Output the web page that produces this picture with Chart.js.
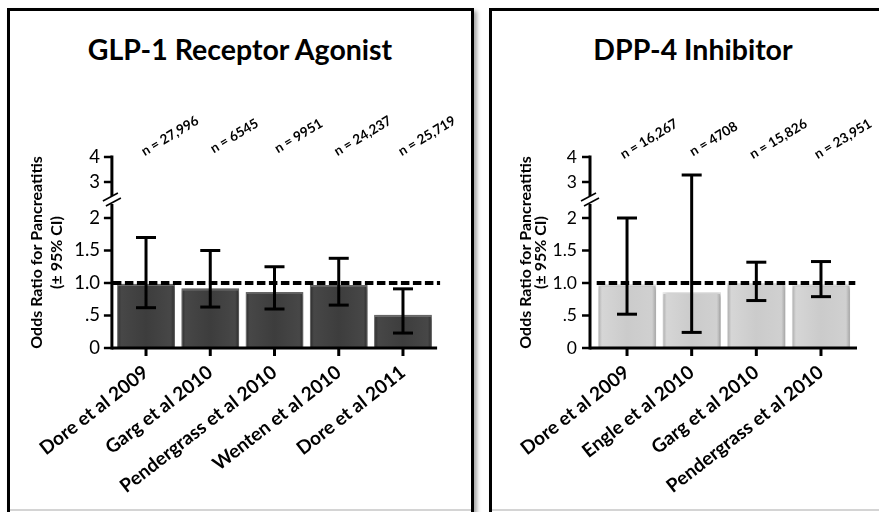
<!DOCTYPE html>
<html><head><meta charset="utf-8">
<script src="https://cdn.jsdelivr.net/npm/chart.js@4.4.0/dist/chart.umd.min.js"></script>
<style>
html,body{margin:0;padding:0;background:#fff;width:879px;height:512px;overflow:hidden;position:relative;}
.panel{position:absolute;border:3px solid #000;box-shadow:3px 3px 4px rgba(0,0,0,0.35);box-sizing:border-box;background:#fff;}
#p1{left:7px;top:8px;width:467px;height:512px;}
#p2{left:489px;top:8px;width:400px;height:512px;}
.bot{position:absolute;top:509px;height:2px;background:#d4d4d4;}
.ttl{position:absolute;font-family:Lato,sans-serif;font-weight:bold;font-size:28.5px;line-height:normal;color:#000;white-space:nowrap;transform:translateX(-50%);}
canvas{position:absolute;left:0;top:0;}
</style></head>
<body>
<div class="panel" id="p1"></div>
<div class="panel" id="p2"></div>
<div class="bot" style="left:10px;width:461px"></div>
<div class="bot" style="left:492px;width:387px"></div>
<div class="ttl" style="left:240px;top:32px">GLP-1 Receptor Agonist</div>
<div class="ttl" style="left:693px;top:32px">DPP-4 Inhibitor</div>
<canvas id="c1" width="879" height="512"></canvas>
<canvas id="c2" width="879" height="512"></canvas>
<script>
const glpCategories = ['Dore et al 2009','Garg et al 2010','Pendergrass et al 2010','Wenten et al 2010','Dore et al 2011'];
const glpOdds  = [0.99, 0.92, 0.86, 0.97, 0.51];
const glpLower = [0.62, 0.63, 0.60, 0.66, 0.23];
const glpUpper = [1.70, 1.50, 1.25, 1.38, 0.91];
const glpN = ['n = 27,996','n = 6545','n = 9951','n = 24,237','n = 25,719'];

const dppCategories = ['Dore et al 2009','Engle et al 2010','Garg et al 2010','Pendergrass et al 2010'];
const dppOdds  = [0.98, 0.86, 1.00, 0.98];
const dppLower = [0.52, 0.24, 0.73, 0.79];
const dppUpper = [2.00, 3.28, 1.32, 1.33];
const dppN = ['n = 16,267','n = 4708','n = 15,826','n = 23,951'];

const yTickValues = [0, 0.5, 1, 1.5, 2, 3, 4];
const yTickLabels = ['0', '.5', '1.0', '1.5', '2', '3', '4'];
const referenceOdds = 1.0;
const yTitle = ['Odds Ratio for Pancreatitis', '(\u00b1 95% CI)'];

// broken axis: 0-2 linear, gap, then 3-4 compressed
const GAP = 36/65, UP_SCALE = 25/65;
function brk(v){
  if (v <= 2) return v;
  if (v >= 3) return 2 + GAP + (v - 3) * UP_SCALE;
  return 2 + (v - 2) * GAP;
}
const Y_MAX = brk(4);

function barFill(dark){
  return function(c){
    const fallback = dark ? '#3d3d3d' : '#c9c9c9';
    const chart = c.chart, xs = chart.scales && chart.scales.x;
    if (!xs || c.dataIndex == null || !xs.ticks || !xs.ticks.length) return fallback;
    const cx = xs.getPixelForValue(c.dataIndex);
    const w = xs.width / xs.ticks.length * 0.9;
    const g = chart.ctx.createLinearGradient(cx - w/2, 0, cx + w/2, 0);
    if (dark){
      g.addColorStop(0, '#2a2a2a'); g.addColorStop(0.07, '#474747');
      g.addColorStop(0.5, '#3d3d3d'); g.addColorStop(0.93, '#474747'); g.addColorStop(1, '#2a2a2a');
    } else {
      g.addColorStop(0, '#a9a9a9'); g.addColorStop(0.07, '#d6d6d6');
      g.addColorStop(0.5, '#cbcbcb'); g.addColorStop(0.93, '#d0d0d0'); g.addColorStop(1, '#a4a4a4');
    }
    return g;
  };
}

function makeChart(canvasId, o){
  const deco = {
    id: 'deco',
    beforeDatasetsDraw(chart){
      const ctx = chart.ctx; ctx.save();
      ctx.shadowColor = 'rgba(0,0,0,0.45)'; ctx.shadowBlur = 4; ctx.shadowOffsetX = 1; ctx.shadowOffsetY = 1;
    },
    afterDatasetsDraw(chart){
      const ctx = chart.ctx; ctx.restore();
      const a = chart.chartArea, xs = chart.scales.x, ys = chart.scales.y;
      const ax = a.left - o.yAxisGap;
      const y0 = ys.getPixelForValue(0);
      const yTop = ys.getPixelForValue(brk(4));
      const yB = ys.getPixelForValue((brk(2) + brk(3)) / 2);
      function line(x1,y1,x2,y2){ ctx.beginPath(); ctx.moveTo(x1,y1); ctx.lineTo(x2,y2); ctx.stroke(); }
      ctx.save();
      ctx.strokeStyle = '#000'; ctx.lineCap = 'butt'; ctx.lineWidth = 3;
      line(ax, yTop - 1.5, ax, yB - 4);
      line(ax, yB + 4, ax, y0 + 1.5);
      ctx.lineWidth = 2.5;
      yTickValues.forEach(v => { const y = ys.getPixelForValue(brk(v)); line(ax - 8, y, ax, y); });
      ctx.lineWidth = 1.5;
      line(ax - 9, yB + 1, ax + 6, yB - 7);
      line(ax - 6, yB + 6, ax + 9, yB - 2);
      ctx.lineWidth = 3;
      line(ax, y0, a.right + o.xAxisExtra, y0);
      o.categories.forEach((c, i) => { const x = xs.getPixelForValue(i); line(x, y0, x, y0 + 8); });
      // reference line
      ctx.save();
      ctx.lineWidth = 4; ctx.setLineDash([8.5, 3.5]);
      const yr = ys.getPixelForValue(brk(referenceOdds));
      line(a.left + o.dashStart, yr, a.right + o.dashEnd, yr);
      ctx.restore();
      // error bars
      ctx.lineWidth = 3;
      o.categories.forEach((c, i) => {
        const x = xs.getPixelForValue(i);
        const yl = ys.getPixelForValue(brk(o.lower[i])), yu = ys.getPixelForValue(brk(o.upper[i]));
        line(x, yl, x, yu); line(x - 10, yl, x + 10, yl); line(x - 10, yu, x + 10, yu);
      });
      // n labels
      ctx.fillStyle = '#000'; ctx.font = 'bold 13.5px Lato'; ctx.textAlign = 'center'; ctx.textBaseline = 'middle';
      o.nLabels.forEach((t, i) => {
        const x = xs.getPixelForValue(i) + o.nOffsetX;
        ctx.save(); ctx.translate(x, o.nY); ctx.rotate(-31 * Math.PI / 180); ctx.fillText(t, 0, 0); ctx.restore();
      });
      ctx.restore();
    }
  };
  return new Chart(document.getElementById(canvasId), {
    type: 'bar',
    data: {
      labels: o.categories,
      datasets: [{
        data: o.odds,
        backgroundColor: barFill(o.dark),
        borderColor: o.dark ? '#6c6c6c' : '#ededed',
        borderWidth: {top: 2, left: 1, right: 1, bottom: 0},
        barPercentage: 0.9, categoryPercentage: 1.0
      }]
    },
    options: {
      responsive: false, animation: false, events: [],
      layout: {padding: o.pad},
      plugins: {legend: {display: false}, tooltip: {enabled: false}},
      scales: {
        x: {
          type: 'category', offset: true,
          grid: {display: false, drawTicks: false}, border: {display: false},
          ticks: {autoSkip: false, maxRotation: 38, minRotation: 38, padding: 13, labelOffset: 0, color: '#000',
                  font: {family: 'Lato', weight: 'bold', size: 19}},
          afterFit(s){ s.height = 164; }
        },
        y: {
          type: 'linear', min: 0, max: Y_MAX,
          grid: {display: false, drawTicks: false}, border: {display: false},
          afterBuildTicks(s){ s.ticks = yTickValues.map(v => ({value: brk(v)})); },
          ticks: {autoSkip: false, padding: o.tickPad, color: '#000', font: {family: 'Lato', size: o.tickSize},
                  callback: (v, i) => yTickLabels[i]},
          title: {display: true, text: yTitle, color: '#000',
                  font: {family: 'Lato', weight: 'bold', size: 16, lineHeight: o.titleLH},
                  padding: {top: o.titlePad, bottom: 0}},
          afterFit(s){ s.width = o.yWidth; }
        }
      }
    },
    plugins: [deco]
  });
}

makeChart('c1', {
  categories: glpCategories, odds: glpOdds, lower: glpLower, upper: glpUpper, nLabels: glpN, dark: true,
  pad: {left: 0, top: 157, right: 879 - 435.1, bottom: 0}, yWidth: 113.9, tickPad: 13.9, tickSize: 18.5,
  titleLH: 1.25, titlePad: 27,
  yAxisGap: 2, xAxisExtra: 2, dashStart: -1, dashEnd: 5, nOffsetX: 24, nY: 136
});
makeChart('c2', {
  categories: dppCategories, odds: dppOdds, lower: dppLower, upper: dppUpper, nLabels: dppN, dark: false,
  pad: {left: 490, top: 157, right: 879 - 853.3, bottom: 0}, yWidth: 104.7, tickPad: 17.7, tickSize: 17.5,
  titleLH: 0.94, titlePad: 28,
  yAxisGap: 4.7, xAxisExtra: 3.7, dashStart: 2, dashEnd: 2, nOffsetX: 22, nY: 139
});
</script>
</body></html>
